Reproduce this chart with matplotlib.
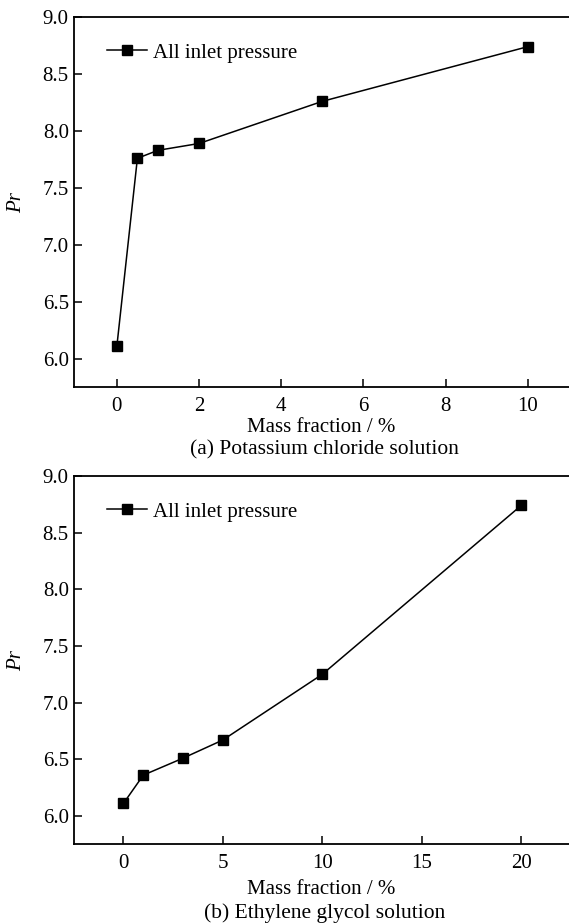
import matplotlib
matplotlib.use('Agg')
from matplotlib import pyplot as plt

# potassium chloride solution
kcl_frac = [0, 0.5, 1, 2, 5, 10]
kcl_pr = [6.11, 7.76, 7.83, 7.89, 8.26, 8.74]

# ethylene glycol solution
eg_frac = [0, 1, 3, 5, 10, 20]
eg_pr = [6.11, 6.36, 6.51, 6.67, 7.25, 8.74]

yticks = [6.0, 6.5, 7.0, 7.5, 8.0, 8.5, 9.0]
kcl_xticks = [0, 2, 4, 6, 8, 10]
eg_xticks = [0, 5, 10, 15, 20]

plt.rcParams['font.family'] = ['Liberation Serif', 'DejaVu Serif']
plt.rcParams['font.size'] = 15

fig = plt.figure(figsize=(5.69, 9.24), dpi=100)
ax1 = fig.add_axes([0.1295, 0.5808, 0.8705, 0.4008])
ax2 = fig.add_axes([0.1295, 0.0863, 0.8705, 0.3986])


def style(ax, x, y, xticks, xlim, caption, cy, lpad):
    ax.plot(x, y, color='black', lw=1.1, marker='s', ms=7.5,
            label='All inlet pressure')
    ax.set_xlim(*xlim)
    ax.set_ylim(5.75, 9.0)
    ax.set_xticks(xticks)
    ax.set_yticks(yticks)
    ax.set_yticklabels(['%.1f' % v for v in yticks])
    ax.spines['right'].set_visible(False)
    for s in ['left', 'bottom', 'top']:
        ax.spines[s].set_linewidth(1.3)
    ax.tick_params(direction='in', length=6, width=1.1, labelsize=15,
                   top=False, right=False)
    ax.tick_params(axis='x', pad=7)
    ax.set_xlabel('Mass fraction / %', fontsize=15, labelpad=lpad)
    ax.set_ylabel('Pr', fontsize=15, style='italic', labelpad=12)
    ax.legend(loc='upper left', frameon=False, fontsize=15,
              handlelength=1.9, handletextpad=0.3,
              bbox_to_anchor=(0.03, 0.98))
    fig.text(0.57, cy, caption, ha='center', va='center', fontsize=15.5)


style(ax1, kcl_frac, kcl_pr, kcl_xticks, (-1.05, 11),
      '(a) Potassium chloride solution', 1 - 450 / 924, 1.5)
style(ax2, eg_frac, eg_pr, eg_xticks, (-2.5, 22.4),
      '(b) Ethylene glycol solution', 1 - 913 / 924, 5)

fig.savefig('out.png', dpi=100)
